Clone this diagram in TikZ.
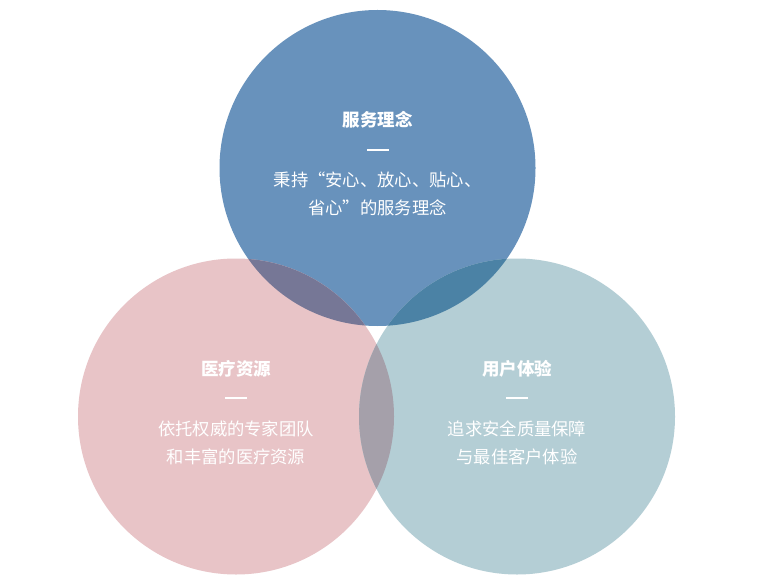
\documentclass[tikz,border=0pt]{standalone}
\usepackage{fontspec}
\setmainfont{Noto Sans CJK SC}
\definecolor{cblue}{HTML}{6892BC}
\definecolor{cpink}{HTML}{E8C4C7}
\definecolor{cteal}{HTML}{B4CED5}
\definecolor{cbp}{HTML}{767796}
\definecolor{cbt}{HTML}{4B82A5}
\definecolor{cpt}{HTML}{A5A0AA}
\begin{document}
\begin{tikzpicture}[x=1pt,y=-1pt,
  ttl/.style={text=white,font=\fontsize{17.5}{20}\selectfont\bfseries,inner sep=0pt},
  body/.style={text=white,font=\fontsize{17.3}{28}\selectfont,align=center,inner sep=0pt},
  dashmark/.style={fill=white,minimum width=22pt,minimum height=1.2pt,inner sep=0pt}]
\useasboundingbox (0,0) rectangle (767,585);
\fill[white] (0,0) rectangle (767,585);
\coordinate (T) at (377.5,168);
\coordinate (L) at (236,416.5);
\coordinate (R) at (517,416.5);
\def\rr{158}
\fill[cblue] (T) circle (\rr);
\fill[cpink] (L) circle (\rr);
\fill[cteal] (R) circle (\rr);
\begin{scope}
  \clip (T) circle (\rr);
  \fill[cbp] (L) circle (\rr);
  \fill[cbt] (R) circle (\rr);
\end{scope}
\begin{scope}
  \clip (L) circle (\rr);
  \fill[cpt] (R) circle (\rr);
\end{scope}
% top
\node[ttl] (t1) at (377.5,120) {服务理念};
\node[dashmark] (t2) at (377.5,150) {};
\node[body] (t3) at (377.5,194) {秉持“安心、放心、贴心、\\省心”的服务理念};
% left
\node[ttl] (l1) at (236,369) {医疗资源};
\node[dashmark] (l2) at (236,398) {};
\node[body] (l3) at (236,443) {依托权威的专家团队\\和丰富的医疗资源};
% right
\node[ttl] (r1) at (517,369) {用户体验};
\node[dashmark] (r2) at (517,398) {};
\node[body] (r3) at (517,443) {追求安全质量保障\\与最佳客户体验};
\end{tikzpicture}
\end{document}
